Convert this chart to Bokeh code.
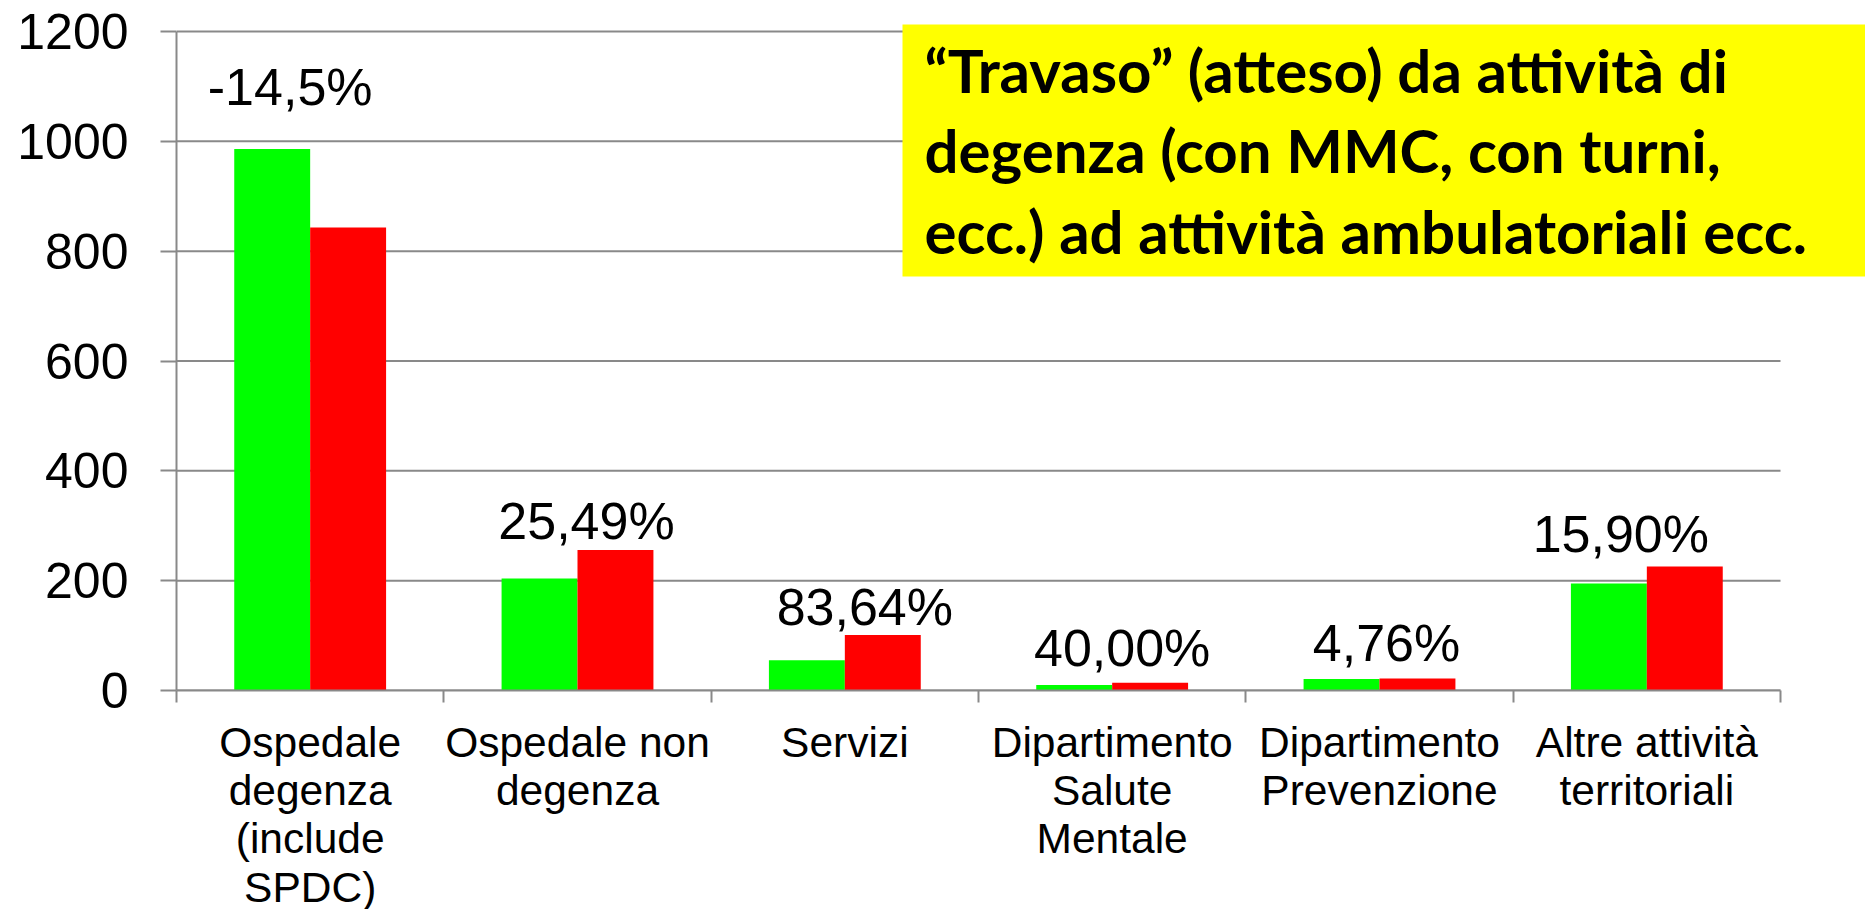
from bokeh.plotting import figure
from bokeh.models import (ColumnDataSource, LabelSet, Label, BoxAnnotation,
                          FixedTicker, Range1d)
from bokeh.transform import dodge
from bokeh.core.properties import value
from bokeh.embed import file_html
from bokeh.resources import INLINE

# ---------------- data ----------------
categories = [
    "Ospedale\ndegenza\n(include\nSPDC)",
    "Ospedale non\ndegenza",
    "Servizi",
    "Dipartimento\nSalute\nMentale",
    "Dipartimento\nPrevenzione",
    "Altre attività\nterritoriali",
]
before = [986, 204, 55, 10, 21, 195]      # green series
after = [843, 256, 101, 14, 22, 226]      # red series
changes = ["-14,5%", "25,49%", "83,64%", "40,00%", "4,76%", "15,90%"]
y_ticks = [0, 200, 400, 600, 800, 1000, 1200]
note = ("\u201cTravaso\u201d (atteso) da attività di\n"
        "degenza (con MMC, con turni,\n"
        "ecc.) ad attività ambulatoriali ecc.")

# ---------------- layout (styles / offsets) ----------------
label_dx = [-20, 9, 20, 10, 7, -26]       # px offsets of the % labels
label_dy = [123, 11, 10, 17, 17, 14]      # px above the red bar top

n = len(categories)
centers = [i + 0.5 for i in range(n)]
bounds_x = list(range(n + 1))
y_max = max(y_ticks)

W, H = 1865, 909
LEFT, TOP = 176, 23
PLOT_W, PLOT_H = 1604, 659          # px spanned by the n categories / 0..y_max
FRAME_W = W - LEFT
FRAME_H = 667

src = ColumnDataSource(dict(x=centers, before=before, after=after,
                            cat=categories, chg=changes,
                            dx=label_dx, dy=label_dy))

GRAY = "#898989"
ARIAL = "Liberation Sans"

p = figure(frame_width=FRAME_W, frame_height=FRAME_H,
           min_border_left=LEFT, min_border_right=0,
           min_border_top=TOP, min_border_bottom=H - TOP - FRAME_H,
           x_range=Range1d(0, n * FRAME_W / PLOT_W),
           y_range=Range1d(0, y_max * FRAME_H / PLOT_H),
           output_backend="svg", toolbar_location=None,
           background_fill_color="white", border_fill_color="white")
p.outline_line_color = None
p.title.visible = False
p.xgrid.grid_line_color = None
p.ygrid.grid_line_color = None

# horizontal gridlines limited to the plot area
p.segment(x0=[0] * len(y_ticks), x1=[n] * len(y_ticks), y0=y_ticks, y1=y_ticks,
          line_color=GRAY, line_width=2)

bw = 0.284
p.vbar(x=dodge("x", -bw / 2, range=p.x_range), top="before", width=bw,
       source=src, fill_color="#00FF00", line_color=None)
p.vbar(x=dodge("x", bw / 2, range=p.x_range), top="after", width=bw,
       source=src, fill_color="#FF0000", line_color=None)

# x axis: labels at category centres, tick marks at category boundaries
p.xaxis.bounds = (0, n)
p.xaxis.ticker = FixedTicker(ticks=centers, minor_ticks=bounds_x)
p.xaxis.major_label_overrides = {c: t for c, t in zip(centers, categories)}
p.xaxis.major_label_text_font = ARIAL
p.xaxis.major_label_text_font_size = "42.5px"
p.xaxis.major_label_text_color = "black"
p.xaxis.major_label_text_line_height = 1.03
p.xaxis.major_label_standoff = 16
p.xaxis.major_tick_line_color = None
p.xaxis.major_tick_in = 0
p.xaxis.major_tick_out = 0
p.xaxis.minor_tick_in = 0
p.xaxis.minor_tick_out = 12
p.xaxis.minor_tick_line_color = GRAY
p.xaxis.minor_tick_line_width = 2
p.xaxis.axis_line_color = GRAY
p.xaxis.axis_line_width = 2

# y axis
p.yaxis.bounds = (0, y_max)
p.yaxis.ticker = FixedTicker(ticks=y_ticks)
p.yaxis.major_label_text_font = ARIAL
p.yaxis.major_label_text_font_size = "50px"
p.yaxis.major_label_text_color = "black"
p.yaxis.major_label_standoff = 32
p.yaxis.major_tick_in = 0
p.yaxis.major_tick_out = 16
p.yaxis.minor_tick_line_color = None
p.yaxis.axis_line_color = GRAY
p.yaxis.axis_line_width = 2
p.yaxis.major_tick_line_color = GRAY
p.yaxis.major_tick_line_width = 2

# percentage labels above red bars
p.add_layout(LabelSet(x="x", y="after", text="chg", source=src,
                      x_offset="dx", y_offset="dy",
                      text_align="center", text_baseline="alphabetic",
                      text_font=value(ARIAL), text_font_size="52px",
                      text_color="black"))

# yellow note box (screen units measured from the frame's bottom-left)
p.add_layout(BoxAnnotation(left=902 - LEFT, right=W - LEFT,
                           top=FRAME_H + TOP - 24, bottom=FRAME_H + TOP - 276,
                           left_units="screen", right_units="screen",
                           top_units="screen", bottom_units="screen",
                           fill_color="#FFFF00", fill_alpha=1.0,
                           line_color=None, level="overlay"))
p.add_layout(Label(x=924 - LEFT, y=FRAME_H + TOP - 33, x_units="screen",
                   y_units="screen",
                   text=note, text_align="left", text_baseline="top",
                   text_font="Lato", text_font_style="bold",
                   text_font_size="60px", text_line_height=1.12,
                   text_color="black", level="overlay"))

open("out.html", "w").write(file_html(p, INLINE))
